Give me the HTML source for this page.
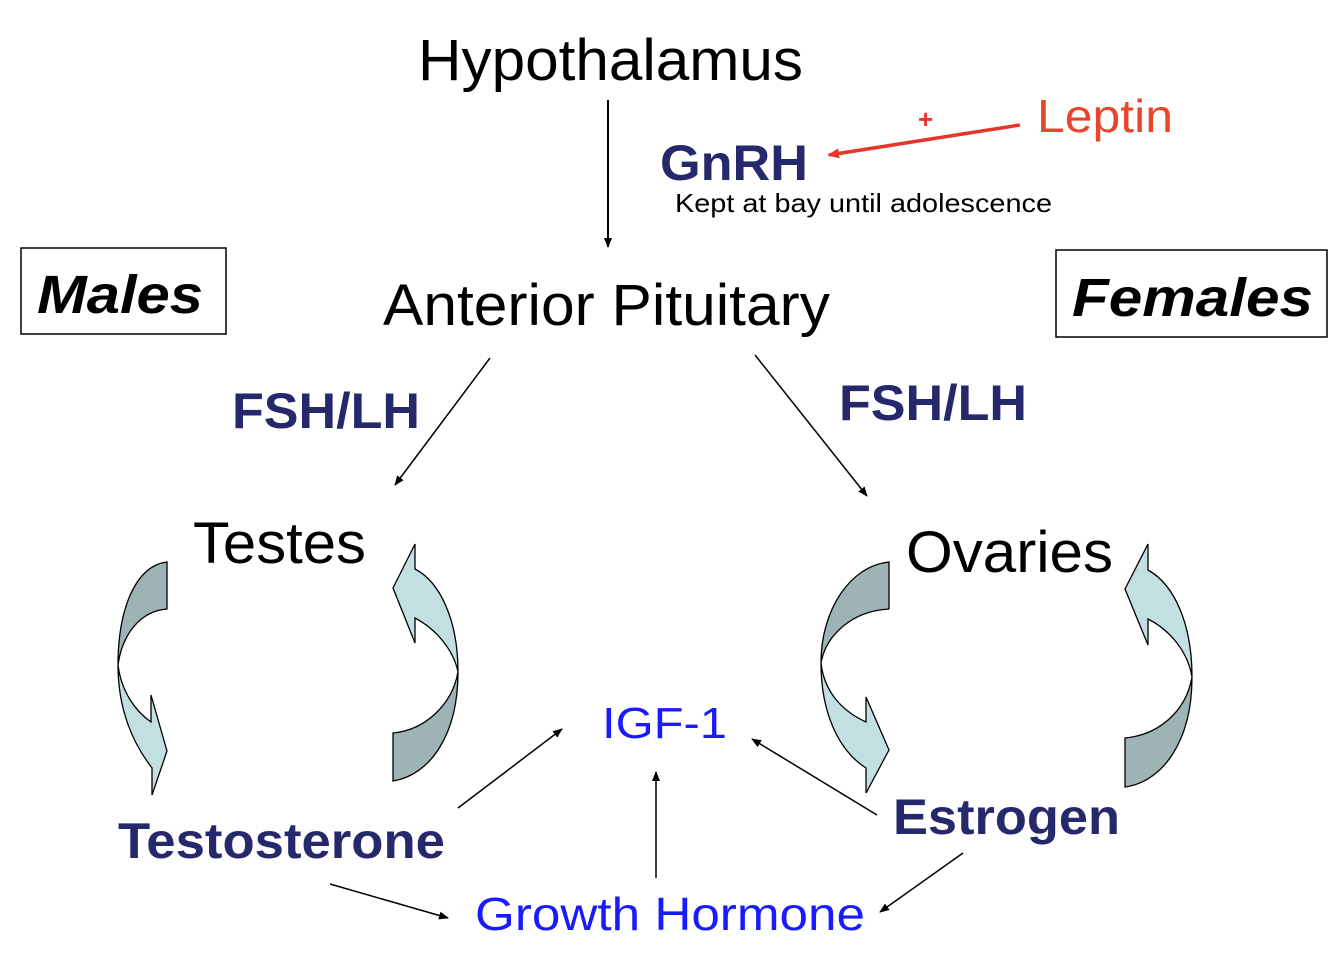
<!DOCTYPE html>
<html><head><meta charset="utf-8"><style>
html,body{margin:0;padding:0;background:#fff;}
svg{display:block;font-family:"Liberation Sans",Arial,sans-serif;}
</style></head><body>
<svg width="1334" height="966" viewBox="0 0 1334 966" xmlns="http://www.w3.org/2000/svg">
<defs>
<marker id="ab" markerWidth="10" markerHeight="10" refX="9" refY="5" orient="auto" markerUnits="userSpaceOnUse"><path d="M0,1 L10,5 L0,9 Z" fill="#000"/></marker>
<marker id="ar" markerWidth="12" markerHeight="12" refX="10" refY="6" orient="auto" markerUnits="userSpaceOnUse"><path d="M0,1 L12,6 L0,11 Z" fill="#e8352a"/></marker>
</defs>

<text x="418" y="80" font-size="58" textLength="385" lengthAdjust="spacingAndGlyphs">Hypothalamus</text>
<line x1="608" y1="100" x2="608" y2="247" stroke="#000" stroke-width="2" marker-end="url(#ab)"/>
<text x="660" y="180" font-size="50" font-weight="bold" fill="#25286b" textLength="148" lengthAdjust="spacingAndGlyphs">GnRH</text>
<text x="675" y="212" font-size="26" textLength="377" lengthAdjust="spacingAndGlyphs">Kept at bay until adolescence</text>
<text x="1037" y="132" font-size="46" fill="#e8452c" textLength="136" lengthAdjust="spacingAndGlyphs">Leptin</text>
<text x="918" y="128" font-size="26" font-weight="bold" fill="#e8352a">+</text>
<line x1="1020" y1="125" x2="829" y2="155" stroke="#e8352a" stroke-width="3.5" marker-end="url(#ar)"/>

<text x="383" y="325" font-size="58" textLength="447" lengthAdjust="spacingAndGlyphs">Anterior Pituitary</text>

<rect x="21" y="248" width="205" height="86" fill="none" stroke="#000" stroke-width="1.5"/>
<text x="37" y="313" font-size="54" font-weight="bold" font-style="italic" textLength="166" lengthAdjust="spacingAndGlyphs">Males</text>
<rect x="1056" y="250" width="271" height="87" fill="none" stroke="#000" stroke-width="1.5"/>
<text x="1072" y="316" font-size="54" font-weight="bold" font-style="italic" textLength="241" lengthAdjust="spacingAndGlyphs">Females</text>

<text x="232" y="428" font-size="50" font-weight="bold" fill="#25286b" textLength="188" lengthAdjust="spacingAndGlyphs">FSH/LH</text>
<text x="839" y="420" font-size="50" font-weight="bold" fill="#25286b" textLength="188" lengthAdjust="spacingAndGlyphs">FSH/LH</text>
<line x1="490" y1="358" x2="395" y2="485" stroke="#000" stroke-width="1.5" marker-end="url(#ab)"/>
<line x1="755" y1="355" x2="867" y2="496" stroke="#000" stroke-width="1.5" marker-end="url(#ab)"/>

<text x="193" y="563" font-size="58" textLength="173" lengthAdjust="spacingAndGlyphs">Testes</text>
<text x="906" y="572" font-size="58" textLength="207" lengthAdjust="spacingAndGlyphs">Ovaries</text>

<!-- testes left curved arrow -->
<g stroke="#000" stroke-width="1.3">
<path d="M167,562 C135,566 118,610 118,665 C122,635 140,611 167,609 Z" fill="#9db3b4"/>
<path d="M118,665 C118,708 132,742 152,768 L152,795 L167,751 L151,695 L151,722 C134,710 121,690 118,665 Z" fill="#c2e0e2"/>
<!-- testes right -->
<path d="M458,672 C458,620 440,582 415,569 L415,544 L393,588 L415,643 L415,618 C438,630 454,652 458,672 Z" fill="#c2e0e2"/>
<path d="M458,672 C458,735 430,775 393,781 L393,733 C425,730 452,705 458,672 Z" fill="#9db3b4"/>
<!-- ovaries left -->
<path d="M889,562 C850,566 821,610 821,663 C826,635 852,611 889,609 Z" fill="#9db3b4"/>
<path d="M821,663 C821,712 838,750 866,768 L866,793 L889,750 L866,697 L866,722 C840,710 824,690 821,663 Z" fill="#c2e0e2"/>
<!-- ovaries right -->
<path d="M1192,677 C1192,625 1175,585 1148,570 L1148,544 L1125,589 L1148,645 L1148,619 C1170,630 1188,652 1192,677 Z" fill="#c2e0e2"/>
<path d="M1192,677 C1192,742 1162,782 1125,787 L1125,738 C1158,735 1186,712 1192,677 Z" fill="#9db3b4"/>
</g>

<text x="602" y="738" font-size="44" fill="#1a1aff" textLength="125" lengthAdjust="spacingAndGlyphs">IGF-1</text>
<text x="118" y="858" font-size="50" font-weight="bold" fill="#25286b" textLength="327" lengthAdjust="spacingAndGlyphs">Testosterone</text>
<text x="893" y="834" font-size="50" font-weight="bold" fill="#25286b" textLength="227" lengthAdjust="spacingAndGlyphs">Estrogen</text>
<text x="475" y="930" font-size="46" fill="#1a1aff" textLength="390" lengthAdjust="spacingAndGlyphs">Growth Hormone</text>

<g stroke="#000" stroke-width="1.5">
<line x1="458" y1="808" x2="562" y2="729" marker-end="url(#ab)"/>
<line x1="656" y1="878" x2="656" y2="772" marker-end="url(#ab)"/>
<line x1="877" y1="815" x2="752" y2="739" marker-end="url(#ab)"/>
<line x1="330" y1="884" x2="448" y2="918" marker-end="url(#ab)"/>
<line x1="963" y1="853" x2="880" y2="912" marker-end="url(#ab)"/>
</g>
</svg>
</body></html>
